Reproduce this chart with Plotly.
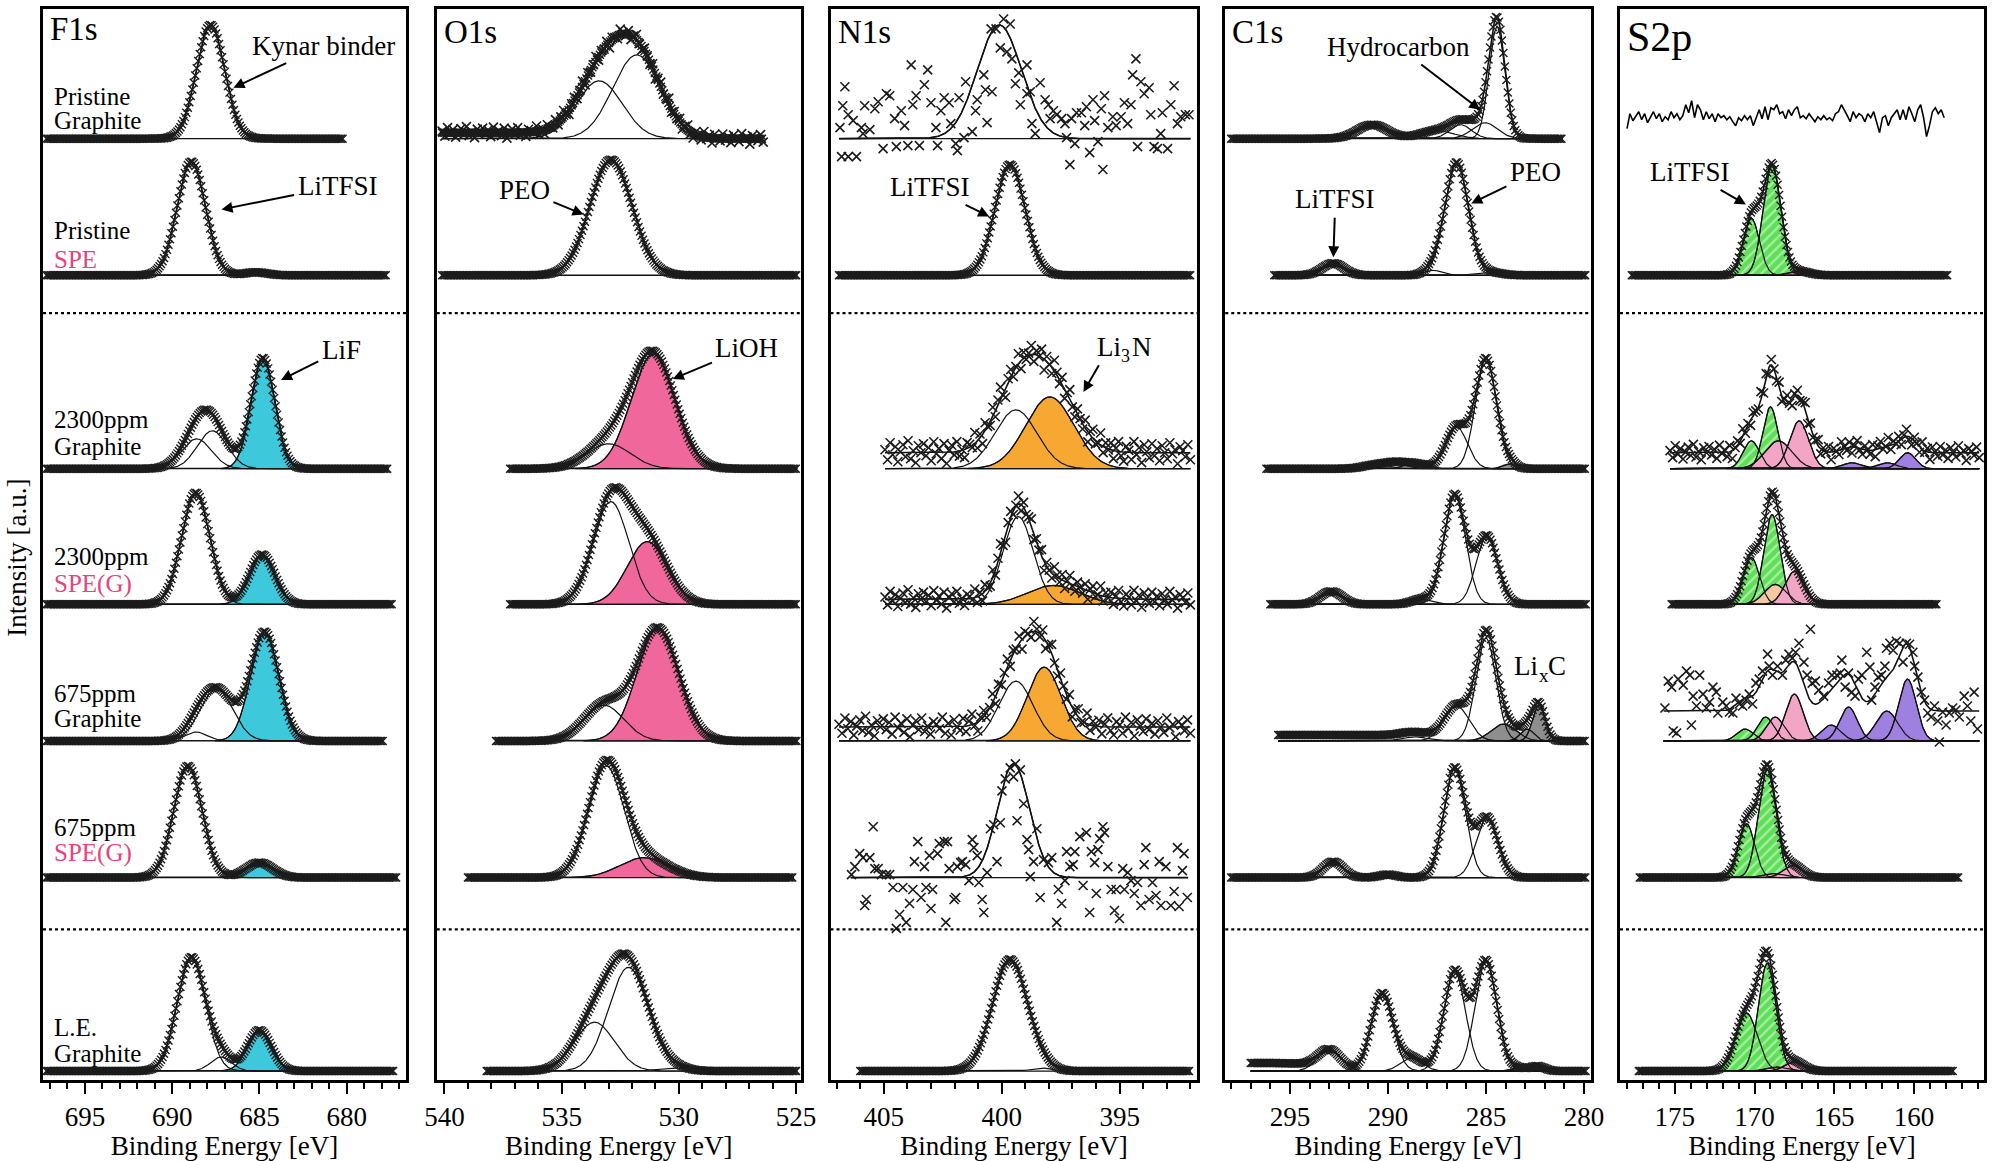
import numpy as np
import plotly.graph_objects as go

FONT = "Liberation Serif"

# ======================= DATA =======================
PANEL_TITLES = ["F1s", "O1s", "N1s", "C1s", "S2p"]
PANEL_X_RANGES = [[697.4, 676.6], [540.33, 524.8], [407.26, 391.7], [298.3, 279.63], [178.44, 155.6]]
TICK_STEP = 5
MINOR_STEP = 1

SAMPLE_LINE_1 = ["Pristine", "Pristine", "2300ppm", "2300ppm", "675ppm", "675ppm", "L.E."]
SAMPLE_LINE_2 = ["Graphite", "SPE", "Graphite", "SPE(G)", "Graphite", "SPE(G)", "Graphite"]

# measured energy span [start, end] (eV) of every spectrum
F1S_SPAN = [[697.2, 680.2], [697.2, 677.7], [697.2, 677.6], [697.2, 677.4], [697.2, 677.9], [697.2, 677.1], [697.2, 677.3]]
O1S_SPAN = [[540.1, 526.4], [540.1, 524.95], [537.2, 524.95], [537.2, 524.95], [537.8, 524.95], [539.0, 525.1], [538.2, 524.95]]
N1S_SPAN = [[406.9, 392.0], [406.9, 392.0], [404.95, 392.0], [404.95, 392.0], [406.9, 392.0], [406.4, 392.1], [406.0, 392.0]]
C1S_SPAN = [[298.0, 281.1], [295.8, 279.9], [296.2, 279.9], [296.0, 279.9], [295.6, 279.9], [298.0, 279.9], [297.0, 279.9]]
S2P_SPAN = [[178.0, 158.1], [177.7, 157.9], [175.3, 155.9], [175.2, 158.5], [175.7, 155.9], [177.2, 157.2], [177.26, 157.5]]

# fitted components: (centre eV, height a.u., FWHM eV, species)
F1S_PEAKS = [
    [(687.8, 114, 1.9, None)],
    [(688.9, 114, 1.9, None), (685.2, 3, 1.5, None)],
    [(688.6, 30, 2.0, None), (687.7, 38, 2.0, None), (684.8, 111, 1.6, "LiF")],
    [(688.65, 112, 1.9, None), (684.85, 50, 1.7, "LiF")],
    [(688.65, 9, 1.5, None), (687.46, 52, 2.2, None), (684.7, 109, 1.9, "LiF")],
    [(689.1, 112, 1.9, None), (685.0, 15, 1.8, "LiF")],
    [(688.9, 114, 1.9, None), (687.2, 14, 1.4, None), (685.0, 41, 1.6, "LiF")],
]
O1S_PEAKS = [
    [(533.4, 58, 2.3, None), (531.8, 84, 2.4, None)],
    [(532.9, 116, 2.1, None)],
    [(533.0, 25, 2.2, None), (531.1, 115, 2.2, "LiOH")],
    [(532.9, 103, 1.8, None), (531.35, 63, 2.0, "LiOH")],
    [(533.2, 36, 2.0, None), (530.9, 113, 2.1, "LiOH")],
    [(533.1, 112, 1.8, None), (531.5, 20, 2.4, "LiOH")],
    [(533.6, 49, 2.0, None), (532.15, 104, 2.0, None), (530.3, 3, 1.5, None)],
]
N1S_PEAKS = [
    [(400.1, 114, 2.2, None)],
    [(399.65, 111, 1.5, None)],
    [(399.4, 59, 2.1, None), (397.96, 72, 2.4, "Li3N")],
    [(399.3, 88, 1.5, None), (397.8, 19, 2.6, "Li3N")],
    [(399.4, 60, 1.7, None), (398.2, 74, 1.7, "Li3N")],
    [(399.5, 114, 1.6, None)],
    [(399.65, 112, 1.75, None), (398.3, 3, 1.0, None)],
]
C1S_PEAKS = [
    [(290.8, 14, 1.8, None), (287.5, 8, 2.0, None), (286.3, 14, 1.3, None), (285.05, 16, 1.5, None), (284.44, 112, 0.95, None)],
    [(292.8, 12, 1.3, None), (287.7, 5, 1.0, None), (286.5, 113, 1.4, None), (284.9, 3, 1.5, None)],
    [(290.6, 4, 1.5, None), (289.6, 5, 1.2, None), (288.6, 5, 1.3, None), (286.5, 42, 1.3, None), (285.0, 110, 1.25, None), (283.8, 5, 0.8, "LixC")],
    [(292.9, 13, 1.3, None), (288.3, 5, 1.2, None), (286.6, 110, 1.3, None), (284.95, 68, 1.3, None)],
    [(288.6, 4, 1.5, None), (286.5, 35, 1.5, None), (285.0, 103, 1.2, None), (284.1, 17, 1.5, "LixC"), (282.9, 12, 0.8, "LixC"), (282.3, 36, 0.75, "LixC")],
    [(292.8, 16, 1.2, None), (290.0, 3, 1.0, None), (286.6, 110, 1.3, None), (284.95, 60, 1.3, None)],
    [(293.0, 21, 1.4, None), (290.3, 78, 1.3, None), (288.8, 13, 1.3, None), (286.6, 100, 1.3, None), (285.0, 110, 1.3, None), (283.4, 3, 0.8, "LixC"), (282.4, 5, 0.9, "LixC")],
]
S2P_PEAKS = [
    [],
    [(170.2, 57, 1.2, "S_ox"), (168.9, 110, 1.3, "S_ox"), (167.2, 4, 1.5, "S_b")],
    [(170.2, 28, 1.2, "S_ox"), (169.0, 62, 1.1, "S_ox"), (168.5, 28, 2.0, "S_b"), (167.2, 48, 1.4, "S_b"),
     (163.9, 6, 1.4, "S_c"), (161.7, 6, 1.4, "S_c"), (160.4, 16, 1.2, "S_c")],
    [(170.2, 47, 1.2, "S_ox"), (168.9, 90, 1.2, "S_ox"), (168.7, 20, 1.6, "S_a"), (167.5, 33, 1.4, "S_b")],
    [(170.6, 12, 1.2, "S_ox"), (169.3, 24, 1.2, "S_ox"), (168.7, 24, 1.3, "S_b"), (167.5, 47, 1.3, "S_b"),
     (165.2, 16, 1.4, "S_c"), (164.1, 34, 1.3, "S_c"), (161.7, 30, 1.6, "S_c"), (160.4, 62, 1.3, "S_c")],
    [(170.5, 54, 1.2, "S_ox"), (169.2, 108, 1.3, "S_ox"), (168.8, 4, 1.5, "S_a"), (167.6, 12, 1.4, "S_b")],
    [(170.5, 58, 1.6, "S_ox"), (169.2, 108, 1.3, "S_ox"), (168.6, 4, 1.5, "S_a"), (167.5, 9, 1.4, "S_b")],
]

# constant background above the fit baseline (a.u.)
F1S_BG = [0, 0, 0, 0, 0, 0, 0]
O1S_BG = [0, 0, 0, 0, 0, 0, 0]
N1S_BG = [0, 0, 16, 5, 14, 0, 0]
C1S_BG = [0, 0, 0, 0, 0, 0, 0]
S2P_BG = [0, 0, 16, 0, 30, 0, 0]
# step background [height, centre eV, width eV]
F1S_STEP = [None] * 7
O1S_STEP = [[6, 534.5, 0.5], None, None, None, None, None, None]
N1S_STEP = [None] * 7
C1S_STEP = [None, None, None, None, [6, 287.8, 0.5], None, [8, 293.8, 0.4]]
S2P_STEP = [None] * 7

# noisy measured points (energy eV, intensity a.u. above baseline)
N1S_PG_E = [406.86, 406.74, 406.65, 406.51, 406.30, 405.95, 405.88, 405.59, 406.79, 406.51,
            406.16, 405.81, 405.38, 405.24, 405.03, 404.89, 404.75, 404.54, 404.47, 404.26,
            404.12, 403.98, 403.84, 403.77, 403.63, 403.49, 403.28, 403.14, 403.00, 402.79,
            402.72, 402.58, 402.44, 402.23, 402.16, 401.95, 401.88, 401.81, 401.60, 401.53,
            401.25, 401.11, 401.04, 400.76, 400.69, 400.62, 400.41, 400.45, 400.24, 400.06,
            399.92, 399.78, 399.64, 399.57, 399.42, 399.28, 399.21, 398.93, 398.93, 398.79,
            398.72, 398.58, 398.37, 398.16, 398.02, 397.95, 397.81, 397.67, 397.46, 397.32,
            397.25, 397.11, 397.04, 396.90, 396.83, 396.62, 396.48, 396.41, 396.27, 396.13,
            396.06, 395.92, 395.78, 395.71, 395.64, 395.50, 395.29, 395.15, 394.94, 394.80,
            394.66, 394.52, 394.45, 394.31, 394.24, 394.10, 393.96, 393.75, 393.68, 393.54,
            393.40, 393.26, 393.19, 392.97, 392.83, 392.69, 392.55, 392.41, 392.21, 392.06]
N1S_PG_I = [11, 33, 52, 24, 18, 11, 5, 9, -18, -18,
            -18, 33, 30, 37, -10, 45, 43, 20, -8, 28,
            13, -7, 74, 34, 43, -7, 54, 69, 36, 11,
            -7, 28, 41, 36, 15, -5, -12, 41, 1, 57,
            7, 28, 39, 64, 49, 16, 47, 110, 110, 91,
            120, 87, 115, 80, 55, 66, 34, 74, 45, 47,
            15, 5, 56, 39, 34, 20, 28, 24, 20, 15,
            1, -26, 20, -5, 26, 26, 13, 32, -14, 39,
            18, -3, 30, -31, 43, 11, 22, 13, 22, 36,
            15, 34, 64, 80, -8, 57, 45, 51, 24, -8,
            -10, 5, 26, -10, 34, 53, 15, 22, 24, 24]
N1S_675S_E = [406.37, 406.23, 406.02, 405.88, 405.81, 405.74, 405.59, 405.45, 405.38, 405.24,
              405.10, 404.89, 404.75, 404.61, 404.47, 404.33, 404.19, 404.05, 403.91, 403.77,
              403.70, 403.56, 403.42, 403.28, 403.21, 403.07, 403.00, 402.93, 402.72, 402.65,
              402.44, 402.37, 402.30, 402.23, 402.02, 401.95, 401.88, 401.74, 401.67, 401.53,
              401.39, 401.25, 401.18, 401.04, 400.97, 400.83, 400.76, 400.62, 400.48, 400.34,
              400.20, 400.06, 399.99, 399.85, 399.64, 399.50, 399.42, 399.35, 399.21, 399.07,
              398.93, 398.86, 398.79, 398.65, 398.51, 398.37, 398.23, 398.02, 397.88, 397.67,
              397.60, 397.46, 397.32, 397.25, 397.11, 396.97, 396.90, 396.69, 396.55, 396.41,
              396.27, 396.20, 396.06, 395.99, 395.92, 395.85, 395.71, 395.64, 395.50, 395.36,
              395.22, 395.15, 395.01, 394.87, 394.80, 394.66, 394.52, 394.38, 394.24, 394.10,
              393.96, 393.89, 393.75, 393.61, 393.46, 393.32, 393.25, 393.04, 392.83, 392.69,
              392.55, 392.48, 392.34, 392.27, 392.13]
N1S_675S_I = [3, 11, 24, 20, -28, -22, 20, 51, 9, 9,
              3, 3, 3, -10, -51, -37, -10, -45, -26, -12,
              16, 36, -20, 11, -10, 22, -31, -12, 24, 34,
              36, -45, 36, 9, -22, -20, 11, 15, 16, 13,
              -3, 38, 30, 22, -5, -22, -35, 5, 49, 53,
              16, 55, 87, 99, 110, 101, 114, 57, 108, 74,
              38, 28, 1, 16, 49, -20, 18, 15, 20, -45,
              -12, -26, -3, 26, 11, 13, 26, 41, -8, 45,
              -35, 26, 15, -16, 28, 39, 51, 45, 11, -12,
              -33, -12, -41, 9, -12, 5, -3, -16, -5, -28,
              13, 30, -22, -5, -18, 16, -28, 11, -28, -14,
              30, -29, 7, 24, -20]
S2P_675G_E = [175.62, 175.41, 175.20, 175.10, 174.89, 174.79, 174.47, 174.27, 174.06, 173.96,
              173.85, 173.64, 173.44, 173.23, 173.02, 172.82, 172.61, 172.40, 172.30, 171.99,
              171.78, 171.57, 171.36, 171.16, 170.95, 170.74, 170.53, 170.33, 170.12, 169.91,
              169.70, 169.50, 169.18, 169.08, 168.87, 168.56, 168.25, 168.04, 167.84, 167.63,
              167.42, 167.21, 166.90, 166.70, 166.49, 166.38, 166.18, 165.97, 165.66, 165.35,
              165.14, 164.83, 164.62, 164.52, 164.31, 164.10, 163.90, 163.69, 163.48, 163.27,
              162.96, 162.76, 162.65, 162.44, 162.24, 162.03, 161.82, 161.72, 161.51, 161.30,
              161.10, 160.89, 160.68, 160.47, 160.27, 160.06, 159.95, 159.75, 159.54, 159.33,
              159.13, 158.92, 158.71, 158.50, 158.40, 158.19, 157.98, 157.78, 157.57, 157.36,
              157.15, 156.84, 156.64, 156.43, 156.22, 156.01]
S2P_675G_I = [33, 60, 54, 10, 8, 62, 56, 70, 66, 16,
              45, 35, 66, 47, 33, 39, 54, 49, 28, 39,
              35, 29, 28, 43, 37, 35, 41, 47, 37, 58,
              62, 70, 87, 75, 66, 75, 66, 81, 87, 83,
              89, 98, 79, 66, 112, 58, 60, 51, 45, 58,
              66, 66, 68, 81, 54, 68, 49, 45, 62, 66,
              89, 74, 41, 54, 64, 66, 75, 93, 98, 91,
              100, 98, 79, 98, 97, 89, 75, 64, 49, 41,
              28, 24, 35, 20, -1, 29, 16, 28, 33, 31,
              24, 45, 35, 20, 49, 12]
# S2p pristine graphite: noisy trace (a.u. around its level), evenly spaced over its span
S2P_PG_LINE = [-11, 4, -3, 2, 6, -2, 4, -5, 0, 6, -1, 4, -4, 1, -2, 6, 0, 4, -2, 2,
               13, 5, 17, 0, 13, 8, -2, 6, -1, 4, -4, 4, 0, 2, -2, 1, -4, -8, 0, -3,
               2, -2, 2, -8, 0, 8, -1, 11, -2, 10, 8, 13, 4, 6, -1, 8, 2, 8, 11, 0,
               2, -1, 4, 0, -4, 1, -2, 2, -2, 0, -3, 4, 6, 13, 8, 2, -4, 6, 0, 4,
               2, -4, 4, 0, 6, -4, -15, 0, 2, -8, 0, 4, 8, -2, 8, -2, 11, 4, -4, 8,
               13, 0, -19, -8, 6, 10, 4, 8, 0]
# scatter of the moderately noisy spectra around their fit (a.u.)
SCATTER_RESID = [3, -7, 10, -2, 6, -9, 1, 8, -4, 12, -6, 2, -10, 7, 0, 9, -3, 5, -8, 11,
                 -1, 4, -6, 9, -11, 2, 7, -3, 10, -5, 1, -8, 6, 3, -2, 11, -7, 4, -9, 8,
                 0, -4, 9, -6, 5, 12, -2, -10, 3, 7, -5, 1, 10, -8, 6, -3, 2, 9, -7, 4,
                 -1, 8, -11, 5, 0, -6, 11, 3, -4, 7, -9, 2, 10, -2, -7, 6, 1, -5, 8, -10,
                 4, 9, -3, 0, 12, -6, 5, -1, 7, -8, 3, 10, -4, -9, 6, 2, -7, 11, -2, 5,
                 -10, 8, 1, -5, 9, -3, 4, -8, 7, 0, -6, 10, -1, 3, -11, 6, 2, -4, 8, -7]

# ======================= LAYOUT / STYLE =======================
W, H = 2006, 1161
ML, MR, MT, MB = 43, 6, 6, 81
PW = W - ML - MR
PH = H - MT - MB
PANEL_PX = [(43, 409), (440, 807), (837, 1207), (1235, 1604), (1633, 2000)]
ROW_BASE_PX = [136, 273, 467, 603, 740, 877, 1071]
S2P_LINE_PX = 115
SEP_PX = [311, 929]

FILL_STYLE = {
    "LiF": dict(color="#3ec8dc", hatch=False),
    "LiOH": dict(color="#f0689b", hatch=False),
    "Li3N": dict(color="#f6a833", hatch=False),
    "LixC": dict(color="#8e8e8e", hatch=False),
    "S_ox": dict(color="#5fdf58", hatch=True),
    "S_a": dict(color="#f6c7a5", hatch=False),
    "S_b": dict(color="#f3a5c6", hatch=False),
    "S_c": dict(color="#9d80e0", hatch=False),
}
EXPLICIT = {(2, 0): (N1S_PG_E, N1S_PG_I), (2, 5): (N1S_675S_E, N1S_675S_I), (4, 4): (S2P_675G_E, S2P_675G_I)}
SCATTER_AMP = {(1, 0): 0.5, (2, 2): 1.0, (2, 3): 0.8, (2, 4): 0.9, (4, 2): 0.7}
DENSE_TOO = {(1, 0)}

PANEL_DATA = [
    dict(span=F1S_SPAN, peaks=F1S_PEAKS, bg=F1S_BG, step=F1S_STEP),
    dict(span=O1S_SPAN, peaks=O1S_PEAKS, bg=O1S_BG, step=O1S_STEP),
    dict(span=N1S_SPAN, peaks=N1S_PEAKS, bg=N1S_BG, step=N1S_STEP),
    dict(span=C1S_SPAN, peaks=C1S_PEAKS, bg=C1S_BG, step=C1S_STEP),
    dict(span=S2P_SPAN, peaks=S2P_PEAKS, bg=S2P_BG, step=S2P_STEP),
]


def yv(py):
    return (H - MB) - py


def paper(px, py):
    return (px - ML) / PW, (H - MB - py) / PH


def gauss(E, c, h, w):
    return h * np.exp(-4.0 * np.log(2.0) * ((E - c) / w) ** 2)


def step_bg(E, step):
    if step is None:
        return np.zeros_like(E)
    h, c, w = step
    return h / (1.0 + np.exp(-(E - c) / w))


def model(E, d, r):
    tot = d["bg"][r] + step_bg(E, d["step"][r])
    for c, h, w, _ in d["peaks"][r]:
        tot = tot + gauss(E, c, h, w)
    return tot


fig = go.Figure()
MK = "#1c1c1c"

for k in range(5):
    sfx = "" if k == 0 else str(k + 1)
    xa, ya = "x" + sfx, "y" + sfx
    d = PANEL_DATA[k]
    a, b = PANEL_PX[k]
    px_per_ev = (b - a) / abs(PANEL_X_RANGES[k][0] - PANEL_X_RANGES[k][1])
    for r in range(7):
        e0, e1 = d["span"][r]
        if k == 4 and r == 0:
            E = np.linspace(e0, e1, len(S2P_PG_LINE))
            fig.add_trace(go.Scatter(x=E, y=yv(S2P_LINE_PX) + np.array(S2P_PG_LINE, float), mode="lines",
                                     line=dict(color="black", width=1.6), xaxis=xa, yaxis=ya, hoverinfo="skip"))
            continue
        base = yv(ROW_BASE_PX[r])
        Ef = np.linspace(e0, e1, 900)
        comps = [(gauss(Ef, c, h, w), key) for c, h, w, key in d["peaks"][r]]
        # filled components
        for cy, key in comps:
            if key is None:
                continue
            st = FILL_STYLE[key]
            m = cy > 0.2
            xs = Ef[m]
            ys = base + cy[m]
            px_ = np.concatenate([xs, xs[::-1]])
            py_ = np.concatenate([ys, np.full(len(xs), base)])
            kw = dict(fill="toself", fillcolor=st["color"])
            if st["hatch"]:
                kw["fillpattern"] = dict(shape="/", fgcolor="white", bgcolor=st["color"], size=7, solidity=0.3)
            fig.add_trace(go.Scatter(x=px_, y=py_, mode="lines", line=dict(color="#111", width=1.1),
                                     xaxis=xa, yaxis=ya, hoverinfo="skip", **kw))
        # component outlines
        for cy, key in comps:
            fig.add_trace(go.Scatter(x=Ef, y=base + cy, mode="lines", line=dict(color="#111", width=1.2),
                                     xaxis=xa, yaxis=ya, hoverinfo="skip"))
        # baseline
        fig.add_trace(go.Scatter(x=[e0, e1], y=[base, base], mode="lines", line=dict(color="#111", width=1.3),
                                 xaxis=xa, yaxis=ya, hoverinfo="skip"))
        # fit envelope
        fig.add_trace(go.Scatter(x=Ef, y=base + model(Ef, d, r), mode="lines", line=dict(color="#111", width=1.6),
                                 xaxis=xa, yaxis=ya, hoverinfo="skip"))
        # measured points (crosses)
        if (k, r) in EXPLICIT:
            Es, Is = EXPLICIT[(k, r)]
            fig.add_trace(go.Scatter(x=Es, y=base + np.array(Is, float), mode="markers",
                                     marker=dict(symbol="x-thin", size=9, line=dict(color=MK, width=1.6)),
                                     xaxis=xa, yaxis=ya, hoverinfo="skip"))
            continue
        if (k, r) in SCATTER_AMP:
            Es = np.linspace(e0, e1, len(SCATTER_RESID))
            ys = base + model(Es, d, r) + SCATTER_AMP[(k, r)] * np.array(SCATTER_RESID, float)
            fig.add_trace(go.Scatter(x=Es, y=ys, mode="markers",
                                     marker=dict(symbol="x-thin", size=9, line=dict(color=MK, width=1.6)),
                                     xaxis=xa, yaxis=ya, hoverinfo="skip"))
            if (k, r) not in DENSE_TOO:
                continue
        step = 1.5 / px_per_ev
        Es = np.arange(e0, e1, -step)
        fig.add_trace(go.Scatter(x=Es, y=base + model(Es, d, r), mode="markers",
                                 marker=dict(symbol="x-thin", size=8, line=dict(color=MK, width=1.4)),
                                 xaxis=xa, yaxis=ya, hoverinfo="skip"))

axes = {}
shapes = []
for k in range(5):
    sfx = "" if k == 0 else str(k + 1)
    a, b = PANEL_PX[k]
    dom = [(a - ML) / PW, (b - ML) / PW]
    axes["xaxis" + sfx] = dict(
        domain=dom, range=PANEL_X_RANGES[k], anchor="y" + sfx,
        showline=True, linewidth=2.6, linecolor="black", mirror=True,
        ticks="outside", ticklen=11, tickwidth=2.2, tickcolor="black",
        tick0=0, dtick=TICK_STEP, showgrid=False, zeroline=False,
        minor=dict(dtick=MINOR_STEP, tick0=0, ticks="outside", ticklen=6, tickwidth=2, tickcolor="black", showgrid=False),
        tickfont=dict(family=FONT, size=27, color="black"),
        title=dict(text="Binding Energy [eV]", font=dict(family=FONT, size=27, color="black"), standoff=0),
    )
    axes["yaxis" + sfx] = dict(
        domain=[0, 1], range=[0, PH], anchor="x" + sfx,
        showline=True, linewidth=2.6, linecolor="black", mirror=True,
        ticks="", showticklabels=False, showgrid=False, zeroline=False,
    )
    for sp in SEP_PX:
        shapes.append(dict(type="line", xref="x" + sfx + " domain", x0=0, x1=1,
                           yref="y" + sfx, y0=yv(sp), y1=yv(sp), line=dict(color="black", width=2.2, dash="dot")))

ann = []


def text(t, px, py, size=27, color="black", anchor="center"):
    x, y = paper(px, py)
    ann.append(dict(text=t, x=x, y=y, xref="paper", yref="paper", showarrow=False, xanchor=anchor, yanchor="middle",
                    font=dict(family=FONT, size=size, color=color)))


def labelled_arrow(t, tx, ty, hx, hy, size=27):
    # text centred at (tx, ty), arrow pointing to (hx, hy)
    x, y = paper(hx, hy)
    ann.append(dict(text=t, x=x, y=y, xref="paper", yref="paper", showarrow=True, ax=tx - hx, ay=ty - hy,
                    axref="pixel", ayref="pixel", arrowhead=2, arrowsize=1.1, arrowwidth=2, arrowcolor="black",
                    standoff=0, startstandoff=2, font=dict(family=FONT, size=size, color="black")))


TITLE_POS = [(48, 26, 33), (445, 29, 33), (843, 29, 33), (1240, 29, 33), (1638, 34, 42)]
for t, (px, py, s) in zip(PANEL_TITLES, TITLE_POS):
    text(t, px, py, size=s, anchor="left")

labelled_arrow("Kynar binder", 325, 43, 235, 85)
labelled_arrow("LiTFSI", 339, 184, 223, 207)
labelled_arrow("LiF", 343, 348, 283, 378)
labelled_arrow("PEO", 529, 188, 588, 212)
labelled_arrow("LiOH", 752, 346, 678, 377)
labelled_arrow("LiTFSI", 938, 185, 997, 214)
labelled_arrow("Hydrocarbon", 1410, 44, 1492, 107)
labelled_arrow("LiTFSI", 1346, 197, 1344, 255)
labelled_arrow("PEO", 1547, 170, 1483, 201)
labelled_arrow("LiTFSI", 1704, 170, 1760, 202)

# Li3N (subscript built from separate pieces), arrow attached to "Li"
labelled_arrow("Li", 1118, 345, 1092, 390)
text("3", 1134, 354, size=18)
text("N", 1139, 345, anchor="left")
# LixC
text("Li", 1552, 665, anchor="right")
text("x", 1556, 674, size=19)
text("C", 1558, 665, anchor="left")

LABEL_Y = [(94, 118), (228, 257), (418, 445), (555, 583), (692, 717), (827, 852), (1027, 1053)]
for (l1, l2), (y1, y2) in zip(zip(SAMPLE_LINE_1, SAMPLE_LINE_2), LABEL_Y):
    text(l1, 52, y1, size=25, anchor="left")
    text(l2, 52, y2, size=25, color="#e8437b" if l2.startswith("SPE") else "black", anchor="left")

yx, yy = paper(17, 556)
ann.append(dict(text="Intensity [a.u.]", x=yx, y=yy, xref="paper", yref="paper", showarrow=False, textangle=-90,
                xanchor="center", yanchor="middle", font=dict(family=FONT, size=27, color="black")))

fig.update_layout(
    width=W, height=H, margin=dict(l=ML, r=MR, t=MT, b=MB, pad=0),
    paper_bgcolor="white", plot_bgcolor="white", showlegend=False,
    font=dict(family=FONT, color="black"),
    annotations=ann, shapes=shapes, **axes,
)

fig.write_html("out.html", config={"displayModeBar": False},
               post_script="document.body.style.margin='0px';document.body.style.overflow='hidden';")
